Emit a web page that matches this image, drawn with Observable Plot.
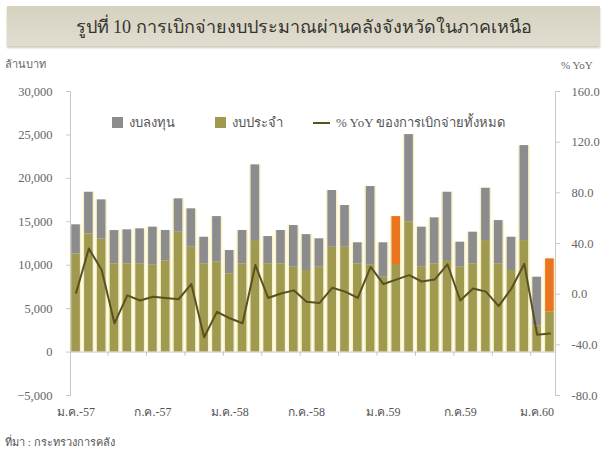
<!DOCTYPE html>
<html>
<head>
<meta charset="utf-8">
<script src="https://cdn.jsdelivr.net/npm/d3@7"></script>
<script src="https://cdn.jsdelivr.net/npm/@observablehq/plot@0.6"></script>
<style>
  html, body { margin: 0; padding: 0; background: #fff; }
  #wrap { position: relative; width: 605px; height: 455px; overflow: hidden; font-family: "Liberation Serif", "DejaVu Serif", serif; }
  #title { position: absolute; left: 7px; top: 6px; width: 593px; height: 40px; background: linear-gradient(#d6d2c0, #e0ddd0); box-shadow: 0 2px 2px #cfcbbb; display: flex; align-items: center; justify-content: center; font-size: 18px; color: #35342e; }
  #chart { position: absolute; left: 0; top: 50px; }
  .unit { position: absolute; font-size: 11px; color: #666; }
  #legend { position: absolute; top: 112px; left: 0; width: 605px; font-size: 13px; color: #555; }
  .li { position: absolute; display: flex; align-items: center; white-space: nowrap; }
  .sw { display: inline-block; width: 11px; height: 11px; margin-right: 6px; }
  .ln { display: inline-block; width: 17px; height: 2px; margin-right: 6px; }
  #source { position: absolute; left: 5px; top: 433px; font-size: 11px; color: #555; }
</style>
</head>
<body>
<div id="wrap">
  <div id="title">รูปที่ 10 การเบิกจ่ายงบประมาณผ่านคลังจังหวัดในภาคเหนือ</div>
  <div id="chart"></div>
  <div class="unit" style="left:5px; top:55px;">ล้านบาท</div>
  <div class="unit" style="left:561px; top:59px;">% YoY</div>
  <div id="legend"></div>
  <div id="source">ที่มา : กระทรวงการคลัง</div>
</div>
<script>
// ---- data ----
const months = [
  "ม.ค.-57","ก.พ.-57","มี.ค.-57","เม.ย.-57","พ.ค.-57","มิ.ย.-57","ก.ค.-57","ส.ค.-57","ก.ย.-57","ต.ค.-57","พ.ย.-57","ธ.ค.-57",
  "ม.ค.-58","ก.พ.-58","มี.ค.-58","เม.ย.-58","พ.ค.-58","มิ.ย.-58","ก.ค.-58","ส.ค.-58","ก.ย.-58","ต.ค.-58","พ.ย.-58","ธ.ค.-58",
  "ม.ค.59","ก.พ.59","มี.ค.59","เม.ย.59","พ.ค.59","มิ.ย.59","ก.ค.59","ส.ค.59","ก.ย.59","ต.ค.59","พ.ย.59","ธ.ค.59",
  "ม.ค.60","ก.พ.60"
];
const tickLabels = ["ม.ค.-57","ก.ค.-57","ม.ค.-58","ก.ค.-58","ม.ค.59","ก.ค.59","ม.ค.60"];
const quarterMarks = ["เม.ย.-57","ก.ค.-57","ต.ค.-57","ม.ค.-58","เม.ย.-58","ก.ค.-58","ต.ค.-58","ม.ค.59","เม.ย.59","ก.ค.59","ต.ค.59","ม.ค.60"];
// งบประจำ (current budget), million baht
const current = [11300,13600,13000,10160,10160,10160,10000,10500,13800,12070,10160,10350,9000,10160,12840,10160,10160,9770,9390,9770,12070,12070,10160,10000,8620,10080,15000,9770,10160,10540,9770,10160,12840,10160,9390,12840,3000,4600];
// งบลงทุน (investment budget), million baht
const investment = [3350,4800,4520,3830,3910,4030,4380,3500,3840,4420,3060,5250,2690,3840,8710,3140,3840,4800,4130,3270,6530,4800,2420,9060,3960,5520,10040,4610,5290,7860,2880,3640,6020,4980,3830,10930,5620,6130];
// % YoY of total disbursement
const yoy = [1,36,19,-23,-1,-5,-2,-3,-4,8,-34,-14,-19,-23,23,-3,0.5,3,-6,-7,5,2,-3,21.5,8,11.5,15,10,11.5,23.6,-5,4.5,2,-9.5,4.5,24,-32,-31];
const highlighted = ["ก.พ.59","ก.พ.60"];
const leftTicks = [-5000,0,5000,10000,15000,20000,25000,30000];
const rightTicks = [-80,-40,0,40,80,120,160];

// ---- colours ----
const cGray = "#8c8c8f", cOlive = "#a09a50", cOrange = "#eb7420", cLine = "#5a5020", cGlow = "#f7f1c4";
const serif = "Liberation Serif";

// ---- dual axis mapping ----
const yLeft = [-5000, 30000], yRight = [-80, 160];
const toLeft = d3.scaleLinear().domain(yRight).range(yLeft);

const rows = [];
months.forEach((m, i) => {
  rows.push({month: m, type: "current", value: current[i], fill: cOlive});
  rows.push({month: m, type: "investment", value: investment[i], fill: highlighted.includes(m) ? cOrange : cGray});
});
const totals = months.map((m, i) => ({month: m, total: current[i] + investment[i]}));
const yoyRows = months.map((m, i) => ({month: m, yoy: yoy[i]}));

const plot = Plot.plot({
  width: 605,
  height: 380,
  marginLeft: 70,
  marginRight: 50,
  marginTop: 41,
  marginBottom: 35,
  style: {fontFamily: serif, fontSize: "12px", color: "#666", background: "transparent"},
  x: {domain: months, paddingInner: 0.33, paddingOuter: 0.1, label: null},
  y: {domain: yLeft, label: null},
  color: {type: "identity"},
  marks: [
    Plot.barY(totals, {x: "month", y: "total", fill: cGlow, insetLeft: -1.5, insetRight: -1.5}),
    Plot.barY(rows, Plot.stackY({x: "month", y: "value", fill: "fill", order: ["current", "investment"], z: "type"})),
    Plot.ruleY([0], {stroke: "#c9c9d6", strokeWidth: 1}),
    Plot.ruleX(quarterMarks, {x: d => d, y1: 0, y2: -480, stroke: "#c0c0d4", dx: -6.4}),
    Plot.line(yoyRows, {x: "month", y: d => toLeft(d.yoy), stroke: cLine, strokeWidth: 2}),
    Plot.axisX({ticks: tickLabels, tickSize: 0, tickPadding: 12, fontSize: 12, fill: "#555", fontFamily: serif}),
    Plot.axisY({ticks: leftTicks, tickFormat: d3.format(","), tickSize: 4, tickPadding: 14, stroke: "#c9c9c9", fill: "#666", fontSize: 12.5, fontFamily: serif}),
    Plot.axisY({anchor: "right", ticks: rightTicks.map(t => toLeft(t)), tickFormat: v => { const r = Math.round(toLeft.invert(v) * 10) / 10; return (r === 0 ? 0 : r).toFixed(1); }, tickSize: 4, tickPadding: 12, stroke: "#c9c9c9", fill: "#666", fontSize: 12.5, fontFamily: serif}),
    Plot.frame({anchor: "left", stroke: "#c9c9c9"}),
    Plot.frame({anchor: "right", stroke: "#c9c9c9"})
  ]
});
document.getElementById("chart").appendChild(plot);

// ---- legend ----
const legendItems = [
  {label: "งบลงทุน", kind: "sw", color: cGray, left: 112},
  {label: "งบประจำ", kind: "sw", color: cOlive, left: 215},
  {label: "% YoY ของการเบิกจ่ายทั้งหมด", kind: "ln", color: cLine, left: 313}
];
const lg = document.getElementById("legend");
legendItems.forEach(it => {
  const d = document.createElement("div");
  d.className = "li";
  d.style.left = it.left + "px";
  const s = document.createElement("span");
  s.className = it.kind;
  s.style.background = it.color;
  d.appendChild(s);
  d.appendChild(document.createTextNode(it.label));
  lg.appendChild(d);
});
</script>
</body>
</html>
